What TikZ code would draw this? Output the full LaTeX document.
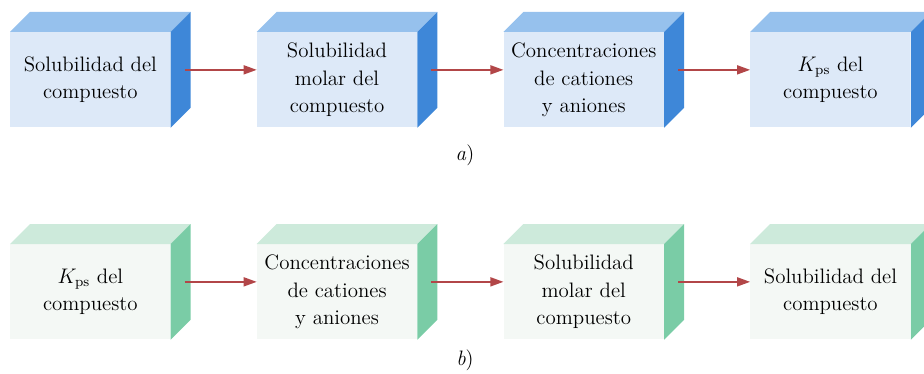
\documentclass[tikz,border=0pt]{standalone}
\usepackage{xcolor}
\usepackage{tikz}
\usetikzlibrary{calc,arrows.meta,positioning}
\definecolor{bfront}{RGB}{221,233,248}
\definecolor{btop}{RGB}{150,193,237}
\definecolor{bside}{RGB}{62,135,216}
\definecolor{gfront}{RGB}{244,248,245}
\definecolor{gtop}{RGB}{205,234,219}
\definecolor{gside}{RGB}{122,204,166}
\definecolor{flowc}{RGB}{178,70,72}

\begin{document}
\begin{tikzpicture}[
  every node/.style={font=\fontsize{11.9}{15.6}\selectfont},
  bbox/.style={rectangle, fill=bfront, minimum width=3.2cm,
               minimum height=1.9cm, inner sep=0pt, align=center},
  gbox/.style={bbox, fill=gfront},
  flow/.style={-{Triangle[length=2.6mm, width=1.8mm]}, line width=0.9pt, flowc},
]
\useasboundingbox (0,0) rectangle (18.48,-7.48);

% a) row
\node[bbox, anchor=north west] (a1) at (0.2,-0.64) {Solubilidad del\\compuesto};
\node[bbox, right=1.72cm of a1] (a2) {Solubilidad\\molar del\\compuesto};
\node[bbox, right=1.72cm of a2] (a3) {Concentraciones\\de cationes\\y aniones};
\node[bbox, right=1.72cm of a3] (a4) {$K_{\mathrm{ps}}$ del\\compuesto};
\fill[btop] (a1.north west) -- ++(0.4,0.4) -- ([shift={(0.4,0.4)}]a1.north east) -- (a1.north east) -- cycle;
\fill[btop] (a2.north west) -- ++(0.4,0.4) -- ([shift={(0.4,0.4)}]a2.north east) -- (a2.north east) -- cycle;
\fill[btop] (a3.north west) -- ++(0.4,0.4) -- ([shift={(0.4,0.4)}]a3.north east) -- (a3.north east) -- cycle;
\fill[btop] (a4.north west) -- ++(0.4,0.4) -- ([shift={(0.4,0.4)}]a4.north east) -- (a4.north east) -- cycle;
\fill[bside] (a1.north east) -- ++(0.4,0.4) -- ([shift={(0.4,0.4)}]a1.south east) -- (a1.south east) -- cycle;
\fill[bside] (a2.north east) -- ++(0.4,0.4) -- ([shift={(0.4,0.4)}]a2.south east) -- (a2.south east) -- cycle;
\fill[bside] (a3.north east) -- ++(0.4,0.4) -- ([shift={(0.4,0.4)}]a3.south east) -- (a3.south east) -- cycle;
\fill[bside] (a4.north east) -- ++(0.4,0.4) -- ([shift={(0.4,0.4)}]a4.south east) -- (a4.south east) -- cycle;
\draw[flow] ([xshift=2.8mm,yshift=2mm]a1.east) -- ([yshift=2mm]a2.west);
\draw[flow] ([xshift=2.8mm,yshift=2mm]a2.east) -- ([yshift=2mm]a3.west);
\draw[flow] ([xshift=2.8mm,yshift=2mm]a3.east) -- ([yshift=2mm]a4.west);
\node (la) at (9.3,-3.1) {\textit{a})};

% b) row
\node[gbox, anchor=north west] (b1) at (0.2,-4.88) {$K_{\mathrm{ps}}$ del\\compuesto};
\node[gbox, right=1.72cm of b1] (b2) {Concentraciones\\de cationes\\y aniones};
\node[gbox, right=1.72cm of b2] (b3) {Solubilidad\\molar del\\compuesto};
\node[gbox, right=1.72cm of b3] (b4) {Solubilidad del\\compuesto};
\fill[gtop] (b1.north west) -- ++(0.4,0.4) -- ([shift={(0.4,0.4)}]b1.north east) -- (b1.north east) -- cycle;
\fill[gtop] (b2.north west) -- ++(0.4,0.4) -- ([shift={(0.4,0.4)}]b2.north east) -- (b2.north east) -- cycle;
\fill[gtop] (b3.north west) -- ++(0.4,0.4) -- ([shift={(0.4,0.4)}]b3.north east) -- (b3.north east) -- cycle;
\fill[gtop] (b4.north west) -- ++(0.4,0.4) -- ([shift={(0.4,0.4)}]b4.north east) -- (b4.north east) -- cycle;
\fill[gside] (b1.north east) -- ++(0.4,0.4) -- ([shift={(0.4,0.4)}]b1.south east) -- (b1.south east) -- cycle;
\fill[gside] (b2.north east) -- ++(0.4,0.4) -- ([shift={(0.4,0.4)}]b2.south east) -- (b2.south east) -- cycle;
\fill[gside] (b3.north east) -- ++(0.4,0.4) -- ([shift={(0.4,0.4)}]b3.south east) -- (b3.south east) -- cycle;
\fill[gside] (b4.north east) -- ++(0.4,0.4) -- ([shift={(0.4,0.4)}]b4.south east) -- (b4.south east) -- cycle;
\draw[flow] ([xshift=2.8mm,yshift=2mm]b1.east) -- ([yshift=2mm]b2.west);
\draw[flow] ([xshift=2.8mm,yshift=2mm]b2.east) -- ([yshift=2mm]b3.west);
\draw[flow] ([xshift=2.8mm,yshift=2mm]b3.east) -- ([yshift=2mm]b4.west);
\node (lb) at (9.3,-7.2) {\textit{b})};
\end{tikzpicture}
\end{document}
